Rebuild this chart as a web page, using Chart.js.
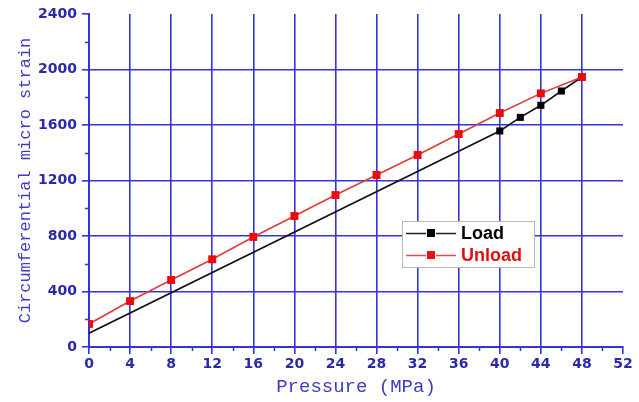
<!DOCTYPE html>
<html>
<head>
<meta charset="utf-8">
<script src="https://cdn.jsdelivr.net/npm/chart.js@4/dist/chart.umd.min.js"></script>
<style>
  html, body { margin: 0; padding: 0; background: #ffffff; }
  #wrap { width: 639px; height: 402px; position: relative; }
</style>
</head>
<body>
<div id="wrap"><canvas id="chart" width="639" height="402"></canvas></div>
<script>
// Loading branch: pressure (MPa) and circumferential micro strain
const loadPressure = [0, 40, 42, 44, 46, 48];
const loadStrain   = [99, 1557, 1655, 1742, 1845, 1946];

// Unloading branch
const unloadPressure = [0, 4, 8, 12, 16, 20, 24, 28, 32, 36, 40, 44, 48];
const unloadStrain   = [166, 331, 483, 632, 793, 944, 1095, 1240, 1384, 1535, 1686, 1828, 1946];

// Axis ranges and tick steps
const xRange = [0, 52];
const xStep = 4;
const yRange = [0, 2400];
const yStep = 400;

const seriesNames = ['Load', 'Unload'];
const seriesColors = ['#000000', '#e81010'];

const AXIS_BLUE = '#3434d6';
const LABEL_BLUE = '#2a2aa8';
const TITLE_BLUE = '#3c3cc4';

const toPoints = (xs, ys) => xs.map((x, i) => ({ x: x, y: ys[i] }));

// Short minor ticks halfway between the major ones
const minorTicks = {
  id: 'minorTicks',
  afterDraw(chart) {
    const { ctx, scales: { x, y } } = chart;
    ctx.save();
    ctx.strokeStyle = AXIS_BLUE;
    ctx.lineWidth = 1.5;
    ctx.beginPath();
    for (let v = xRange[0] + xStep / 2; v < xRange[1]; v += xStep) {
      const px = Math.round(x.getPixelForValue(v)) + 0.5;
      ctx.moveTo(px, y.bottom);
      ctx.lineTo(px, y.bottom + 4);
    }
    for (let v = yRange[0] + yStep / 2; v < yRange[1]; v += yStep) {
      const py = Math.round(y.getPixelForValue(v)) + 0.5;
      ctx.moveTo(x.left, py);
      ctx.lineTo(x.left - 4, py);
    }
    ctx.stroke();
    ctx.restore();
  }
};

// Boxed legend inside the plot: line - square marker - line, then the name
const boxLegend = {
  id: 'boxLegend',
  afterDraw(chart) {
    const { ctx } = chart;
    const bx = 402, by = 221, bw = 132, bh = 46;
    ctx.save();
    ctx.fillStyle = '#ffffff';
    ctx.fillRect(bx, by, bw, bh);
    ctx.strokeStyle = '#b8b8b8';
    ctx.lineWidth = 1;
    ctx.strokeRect(bx + 0.5, by + 0.5, bw, bh);
    const rows = [233, 255];
    seriesNames.forEach((name, i) => {
      const cy = rows[i];
      ctx.strokeStyle = i === 0 ? '#222222' : '#e05050';
      ctx.lineWidth = 1.6;
      ctx.beginPath();
      ctx.moveTo(406, cy + 0.5);
      ctx.lineTo(426, cy + 0.5);
      ctx.moveTo(436, cy + 0.5);
      ctx.lineTo(456, cy + 0.5);
      ctx.stroke();
      ctx.fillStyle = seriesColors[i];
      ctx.fillRect(427, cy - 4, 8, 8);
      ctx.font = 'bold 18px "Liberation Sans", Arial, sans-serif';
      ctx.textBaseline = 'middle';
      ctx.fillStyle = i === 0 ? '#000000' : '#e01010';
      ctx.fillText(name, 461, cy + 1);
    });
    ctx.restore();
  }
};

const plainNumber = (v) => String(v);

new Chart(document.getElementById('chart'), {
  type: 'line',
  data: {
    datasets: [
      {
        label: seriesNames[0],
        data: toPoints(loadPressure, loadStrain),
        borderColor: '#111111',
        backgroundColor: '#000000',
        borderWidth: 1.6,
        pointStyle: 'rect',
        pointRadius: [0, 5, 5, 5, 5, 5],
        pointBorderWidth: 0,
        order: 2
      },
      {
        label: seriesNames[1],
        data: toPoints(unloadPressure, unloadStrain),
        borderColor: '#e23a3a',
        backgroundColor: '#ee0a0a',
        borderWidth: 1.6,
        pointStyle: 'rect',
        pointRadius: 5.6,
        pointBorderWidth: 0,
        order: 1
      }
    ]
  },
  options: {
    responsive: false,
    animation: false,
    devicePixelRatio: 1,
    layout: { padding: { top: 14, right: 16, left: 0, bottom: 0 } },
    plugins: {
      legend: { display: false },
      tooltip: { enabled: false }
    },
    scales: {
      x: {
        type: 'linear',
        min: xRange[0],
        max: xRange[1],
        afterFit(scale) { scale.height = 55; },
        ticks: {
          stepSize: xStep,
          callback: plainNumber,
          color: LABEL_BLUE,
          padding: 2,
          maxRotation: 0,
          font: { family: '"DejaVu Sans", sans-serif', weight: 'bold', size: 14 }
        },
        grid: {
          color: (c) => (c.tick && c.tick.value === xRange[1]) ? 'rgba(0,0,0,0)' : AXIS_BLUE,
          tickColor: AXIS_BLUE,
          lineWidth: 1.6,
          tickLength: 7
        },
        border: { display: true, color: AXIS_BLUE, width: 2 },
        title: {
          display: true,
          text: 'Pressure (MPa)',
          color: TITLE_BLUE,
          padding: { top: 0, bottom: 4 },
          font: { family: '"Liberation Mono", "DejaVu Sans Mono", monospace', size: 19 }
        }
      },
      y: {
        type: 'linear',
        min: yRange[0],
        max: yRange[1],
        afterFit(scale) { scale.width = 89; },
        ticks: {
          stepSize: yStep,
          callback: plainNumber,
          color: LABEL_BLUE,
          padding: 5,
          font: { family: '"DejaVu Sans", sans-serif', weight: 'bold', size: 14 }
        },
        grid: {
          color: (c) => (c.tick && c.tick.value === yRange[1]) ? 'rgba(0,0,0,0)' : AXIS_BLUE,
          tickColor: AXIS_BLUE,
          lineWidth: 1.6,
          tickLength: 7
        },
        border: { display: true, color: AXIS_BLUE, width: 2 },
        title: {
          display: true,
          text: 'Circumferential micro strain',
          color: TITLE_BLUE,
          padding: { top: 15, bottom: 0 },
          font: { family: '"Liberation Mono", "DejaVu Sans Mono", monospace', size: 17 }
        }
      }
    }
  },
  plugins: [minorTicks, boxLegend]
});
</script>
</body>
</html>
